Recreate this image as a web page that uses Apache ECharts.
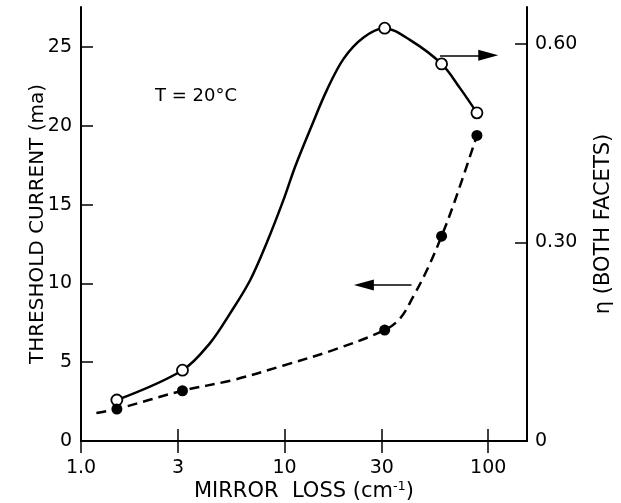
<!DOCTYPE html>
<html>
<head>
    <title>Threshold current and efficiency vs mirror loss</title>
    <script src="https://cdn.jsdelivr.net/npm/echarts@6/dist/echarts.min.js"></script>
</head>
<body style="margin:0;background:#fff;">
<div id="chart" style="width: 621px; height: 503px;"></div>
<script>
    // values (x = mirror loss, cm^-1)
    var pointLoss = [1.5, 3.15, 31, 59, 88];
    var pointEta = [0.062, 0.107, 0.624, 0.570, 0.496];
    var pointCurrent = [2.03, 3.19, 7.04, 13.0, 19.4];

    var etaCurveLoss = [1.5, 3.15, 4.3, 5.4, 6.77, 8.18, 9.86, 11.27, 13.6, 16.1, 19.5, 24.4, 30.8, 41.4, 59, 72.8, 88];
    var etaCurveVal = [0.062, 0.107, 0.148, 0.193, 0.243, 0.300, 0.364, 0.415, 0.477, 0.530, 0.578, 0.610, 0.624, 0.606, 0.570, 0.533, 0.496];
    var currentCurveLoss = [1.19, 1.5, 3.15, 5.58, 9.8, 17.3, 31, 37, 42.8, 50, 59, 68.8, 88];
    var currentCurveVal = [1.78, 2.03, 3.19, 3.87, 4.78, 5.77, 7.04, 7.8, 9.16, 10.85, 13.0, 15.3, 19.4];

    var xTicks = [1, 3, 10, 30, 100];
    var leftTicks = [0, 5, 10, 15, 20, 25];
    var rightTicks = [0, 0.3, 0.6];

    function pairs(xs, ys) {
        var out = [];
        for (var i = 0; i < xs.length; i++) out.push([xs[i], ys[i]]);
        return out;
    }

    var font = 'DejaVu Sans';
    var axisLine = { show: true, lineStyle: { color: '#000', width: 2 } };
    var tick = { show: true, inside: true, length: 12, lineStyle: { color: '#000', width: 1.5 } };

    var chart = echarts.init(document.getElementById('chart'));

    var option = {
        animation: false,
        backgroundColor: '#fff',
        grid: { left: 81, right: 94, top: 7, bottom: 62, outerBoundsMode: 'none', containLabel: false },
        title: {
            text: 'T = 20°C',
            left: 150, top: 82,
            textStyle: { fontFamily: font, fontSize: 18, fontWeight: 'normal', color: '#000' }
        },
        xAxis: [{
            type: 'log', min: 1, max: 155, position: 'bottom',
            name: '{n|MIRROR  LOSS (cm}{s|-1}{n|)}',
            nameLocation: 'middle', nameGap: 39, nameMoveOverlap: false,
            nameTextStyle: {
                rich: {
                    n: { fontFamily: font, fontSize: 21, color: '#000' },
                    s: { fontFamily: font, fontSize: 13, color: '#000', verticalAlign: 'top', padding: [0, 0, 11, 0] }
                }
            },
            axisLine: axisLine,
            axisTick: Object.assign({ customValues: xTicks }, tick),
            minorTick: { show: false },
            splitLine: { show: false },
            axisLabel: {
                customValues: xTicks, margin: 18,
                fontFamily: font, fontSize: 19, color: '#000',
                formatter: function (v) { return v === 1 ? '1.0' : String(v); }
            }
        }, {
            type: 'log', min: 1, max: 155, position: 'top',
            axisLine: axisLine,
            axisTick: Object.assign({ customValues: xTicks }, tick),
            splitLine: { show: false },
            axisLabel: { show: false }
        }],
        yAxis: [{
            type: 'value', min: 0, max: 27.55, position: 'left',
            name: 'THRESHOLD CURRENT (ma)',
            nameLocation: 'middle', nameGap: 33, nameRotate: 90, nameMoveOverlap: false,
            nameTextStyle: { fontFamily: font, fontSize: 20, color: '#000' },
            axisLine: axisLine,
            axisTick: Object.assign({ customValues: leftTicks }, tick),
            splitLine: { show: false },
            axisLabel: { customValues: leftTicks, margin: 9, fontFamily: font, fontSize: 19, color: '#000' }
        }, {
            type: 'value', min: 0, max: 0.656, position: 'right',
            name: 'η (BOTH FACETS)',
            nameLocation: 'middle', nameGap: 66, nameRotate: 90, nameMoveOverlap: false,
            nameTextStyle: { fontFamily: font, fontSize: 21, color: '#000' },
            axisLine: axisLine,
            axisTick: Object.assign({ customValues: rightTicks }, tick),
            splitLine: { show: false },
            axisLabel: {
                customValues: rightTicks, margin: 8, fontFamily: font, fontSize: 19, color: '#000',
                formatter: function (v) { return v === 0 ? '0' : v.toFixed(2); }
            }
        }],
        series: [{
            type: 'line', yAxisIndex: 1, smooth: 0.35, showSymbol: false, silent: true,
            data: pairs(etaCurveLoss, etaCurveVal),
            lineStyle: { color: '#000', width: 2.5 },
            markLine: {
                silent: true, symbol: ['none', 'triangle'], symbolSize: [11, 20],
                label: { show: false },
                lineStyle: { color: '#000', width: 1.5, type: 'solid' },
                data: [[{ coord: [58, 0.583] }, { coord: [100, 0.583] }]]
            }
        }, {
            type: 'line', yAxisIndex: 0, smooth: 0.35, showSymbol: false, silent: true,
            data: pairs(currentCurveLoss, currentCurveVal),
            lineStyle: { color: '#000', width: 2.5, type: [10, 6] },
            markLine: {
                silent: true, symbol: ['none', 'triangle'], symbolSize: [11, 20],
                label: { show: false },
                lineStyle: { color: '#000', width: 1.5, type: 'solid' },
                data: [[{ coord: [42, 9.9] }, { coord: [24.5, 9.9] }]]
            }
        }, {
            type: 'scatter', yAxisIndex: 1, symbol: 'circle', symbolSize: 11,
            data: pairs(pointLoss, pointEta),
            itemStyle: { color: '#fff', borderColor: '#000', borderWidth: 1.8, opacity: 1 },
            z: 5
        }, {
            type: 'scatter', yAxisIndex: 0, symbol: 'circle', symbolSize: 11,
            data: pairs(pointLoss, pointCurrent),
            itemStyle: { color: '#000', opacity: 1 },
            z: 5
        }]
    };

    chart.setOption(option);
</script>
</body>
</html>
